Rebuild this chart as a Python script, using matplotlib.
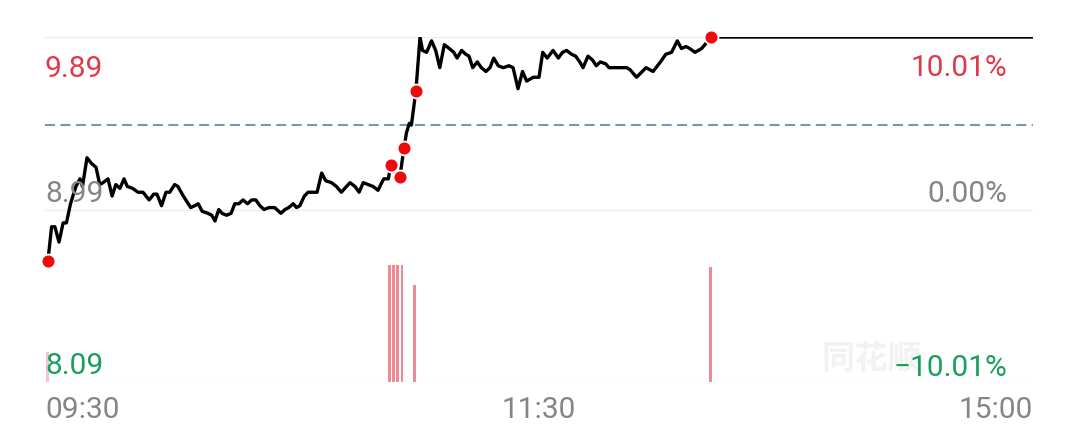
import matplotlib
matplotlib.use('Agg')
import matplotlib.pyplot as plt

# ---- data (minutes after 09:30 on the trading-time axis, price) ----
times = [0, 0.9, 1.7, 2.7, 3.7, 4.5, 5.5, 6.8, 7.8, 8.4, 9.5, 10.6, 11.7, 12.6, 13.4,
         14.6, 15.6, 16.5, 17.5, 18.5, 19.3, 20.6, 21.9, 23.1, 24.6, 25.7, 26.5, 27.6,
         28.7, 29.6, 30.8, 31.6, 32.9, 34.7, 35.7, 36.5, 37.5, 38.9, 39.8, 40.6, 41.5,
         42.3, 43.4, 44.5, 45.4, 46.4, 47.4, 48.5, 49.5, 50.5, 51.5, 52.5, 53.7, 55.1,
         56.6, 57.6, 58.5, 59.6, 60.4, 61.2, 62.3, 63.2, 64.4, 65.4, 66.5, 67.5, 68.9,
         70.1, 71.3, 72.1, 73.4, 74.6, 75.6, 76.6, 77.8, 79.0, 80.2, 81.1, 81.6, 82.7,
         83.3, 85.5, 86.5, 87.1, 87.8, 88.3, 89.4, 90.4, 91.0, 92.0, 93.2, 94.2, 95.2,
         96.3, 97.5, 98.6, 99.4, 100.5, 101.5, 102.3, 103.2, 104.3, 105.3, 106.4, 107.4,
         108.3, 109.4, 110.6, 112.0, 113.0, 114.2, 115.3, 116.3, 117.9, 119.3, 120.2,
         121.3, 122.7, 124.0, 125.0, 126.0, 127.2, 128.2, 129.2, 130.0, 131.2, 132.3,
         133.2, 134.2, 135.5, 136.3, 138.9, 140.6, 141.4, 143.0, 145.3, 147.0, 148.8,
         150.1, 151.5, 152.9, 153.9, 155.0, 155.9, 157.2, 158.8, 159.6, 161.0, 239]
prices = [8.72, 8.90, 8.90, 8.82, 8.92, 8.92, 9.02, 9.11, 9.15, 9.11, 9.26, 9.23, 9.21,
          9.12, 9.13, 9.15, 9.06, 9.12, 9.10, 9.15, 9.11, 9.10, 9.08, 9.08, 9.04, 9.07,
          9.07, 9.01, 9.08, 9.08, 9.12, 9.11, 9.06, 9.00, 9.01, 9.02, 8.98, 8.97, 8.96,
          8.93, 8.99, 8.97, 8.96, 8.97, 9.02, 9.02, 9.04, 9.02, 9.04, 9.04, 9.01, 8.99,
          9.00, 9.00, 8.97, 8.99, 9.00, 9.02, 9.00, 9.01, 9.06, 9.08, 9.08, 9.08, 9.18,
          9.14, 9.13, 9.11, 9.08, 9.10, 9.13, 9.11, 9.08, 9.13, 9.12, 9.11, 9.09, 9.13,
          9.15, 9.15, 9.22, 9.16, 9.31, 9.39, 9.44, 9.43, 9.61, 9.89, 9.82, 9.81, 9.87,
          9.82, 9.73, 9.85, 9.83, 9.81, 9.78, 9.82, 9.80, 9.79, 9.73, 9.76, 9.73, 9.71,
          9.73, 9.78, 9.74, 9.73, 9.74, 9.73, 9.62, 9.71, 9.66, 9.68, 9.68, 9.81, 9.78,
          9.82, 9.78, 9.81, 9.82, 9.80, 9.79, 9.76, 9.73, 9.79, 9.77, 9.74, 9.76, 9.75,
          9.73, 9.73, 9.73, 9.72, 9.68, 9.73, 9.71, 9.76, 9.80, 9.81, 9.87, 9.83, 9.84,
          9.83, 9.81, 9.83, 9.85, 9.89, 9.89]

dot_times = [0, 83.3, 85.5, 86.5, 89.4, 161.0]
dot_prices = [8.72, 9.22, 9.16, 9.31, 9.61, 9.89]

vol_times = [0, 83, 84, 85, 86, 89, 161]
vol_values = [260, 1017, 1017, 1017, 1017, 843, 1000]

limit_up = 9.89
prev_close = 8.99
limit_down = 8.09
dash_level = 9.43

left_labels = ['9.89', '8.99', '8.09']
right_labels = ['10.01%', '0.00%', '\u221210.01%']
time_labels = ['09:30', '11:30', '15:00']
watermark = '同花顺'

# ---- figure ----
W, H = 1079, 440
fig = plt.figure(figsize=(W / 100, H / 100), dpi=100)
fig.patch.set_facecolor('white')

rect = [45 / W, 58 / H, 988 / W, 345 / H]
ax_vol = fig.add_axes(rect)
ax = fig.add_axes(rect)
for a in (ax_vol, ax):
    a.set_xlim(-0.7, 239.3)
    a.set_axis_off()
    a.patch.set_alpha(0)
ax.set_ylim(limit_down, limit_up)
ax_vol.set_ylim(0, 3000)

# gridlines
for lvl in (limit_up, prev_close, limit_down):
    ax.axhline(lvl, color='#ececec', lw=0.9, zorder=0)
ax.axhline(dash_level, color='#7b95b7', lw=1.5, dashes=(4.8, 2.6), zorder=1)

# volume bars
bar_colors = ['#f6c4ca'] + ['#ef8a95'] * (len(vol_times) - 1)
ax_vol.bar(vol_times, vol_values, width=0.68, color=bar_colors, zorder=1)

# labels
pink_red = '#e23848'
green = '#17a05a'
gray = '#858585'
font = 'Roboto'
fs = 21.5
def fy(py):
    return 1 - py / H
fig.text(45 / W, fy(69), left_labels[0], color=pink_red, fontsize=fs, family=font,
         ha='left', va='center', zorder=2)
fig.text(45 / W, fy(194), left_labels[1], color=gray, fontsize=fs, family=font,
         ha='left', va='center', zorder=2)
fig.text(45 / W, fy(366), left_labels[2], color=green, fontsize=fs, family=font,
         ha='left', va='center', zorder=2)
fig.text(1007 / W, fy(68), right_labels[0], color=pink_red, fontsize=fs, family=font,
         ha='right', va='center')
fig.text(1007 / W, fy(194), right_labels[1], color=gray, fontsize=fs, family=font,
         ha='right', va='center')
fig.text(1007 / W, fy(368), right_labels[2], color=green, fontsize=fs, family=font,
         ha='right', va='center')

fig.text(45 / W, fy(410), time_labels[0], color=gray, fontsize=fs, family=font,
         ha='left', va='center')
fig.text(539 / W, fy(410), time_labels[1], color=gray, fontsize=fs, family=font,
         ha='center', va='center')
fig.text(1033 / W, fy(410), time_labels[2], color=gray, fontsize=fs, family=font,
         ha='right', va='center')

fig.text(872 / W, fy(359), watermark, color='#f2f2f2', fontsize=24,
         family=['Noto Sans CJK SC', 'DejaVu Sans'], weight='bold',
         ha='center', va='center', style='italic', zorder=0)

# price line and markers
ax.plot(times, prices, color='black', lw=2.4, zorder=5, solid_joinstyle='round')
ax.plot(dot_times, dot_prices, 'o', ms=10, color='#ee0a0a', mec='white', mew=1.3,
        zorder=6, clip_on=False)

fig.savefig('out.png', dpi=100, facecolor='white')
